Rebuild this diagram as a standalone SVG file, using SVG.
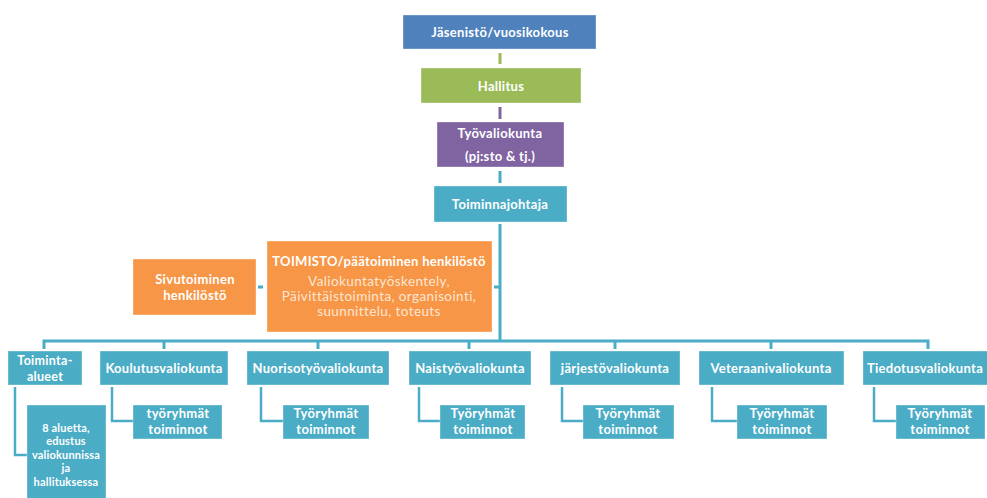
<svg xmlns="http://www.w3.org/2000/svg" width="987" height="498" viewBox="0 0 987 498">
<style>
text{font-family:Lato,"Open Sans","Liberation Sans",sans-serif;font-weight:700;font-size:13px;letter-spacing:0.3px;fill:#ffffff;text-anchor:middle;dominant-baseline:central}
.lt{font-weight:400;fill:#fde6d3;font-size:13.5px;letter-spacing:0.4px}
.sm{font-size:11px;letter-spacing:0.2px}
.ta{font-size:12.5px}
rect{stroke:#ffffff;stroke-opacity:0.35;stroke-width:1}
.b{fill:#4bacc6}
.o{fill:#f79646}
.c{fill:none;stroke:#4bacc6;stroke-width:3}
.s{fill:none;stroke:#4bacc6;stroke-width:2.5}
</style>
<g id="connectors">
<line x1="500" y1="53" x2="500" y2="64" stroke="#9bbb59" stroke-width="3"/>
<line x1="500" y1="107" x2="500" y2="119" stroke="#8064a2" stroke-width="3"/>
<line class="c" x1="500" y1="171" x2="500" y2="183"/>
<line class="c" x1="500" y1="224" x2="500" y2="342"/>
<line class="c" x1="494" y1="287" x2="500" y2="287"/>
<line class="c" x1="258" y1="287" x2="263" y2="287"/>
<polyline class="c" points="44,349 44,341 928,341 928,349"/>
<line class="c" x1="164" y1="341" x2="164" y2="349"/>
<line class="c" x1="318" y1="341" x2="318" y2="349"/>
<line class="c" x1="469" y1="341" x2="469" y2="349"/>
<line class="c" x1="615" y1="341" x2="615" y2="349"/>
<line class="c" x1="771" y1="341" x2="771" y2="349"/>
<polyline class="s" points="15,387 15,455 27,455"/>
<polyline class="s" points="112,387 112,421 133,421"/>
<polyline class="s" points="261,387 261,421 283,421"/>
<polyline class="s" points="419,387 419,421 440,421"/>
<polyline class="s" points="562,387 562,421 583,421"/>
<polyline class="s" points="712,387 712,421 737,421"/>
<polyline class="s" points="874,387 874,421 896,421"/>
</g>
<g id="jasenisto"><rect x="403" y="15" width="193" height="34" fill="#4f81bd"/><text x="500" y="32">Jäsenistö/vuosikokous</text></g>
<g id="hallitus"><rect x="421" y="68" width="160" height="35" fill="#9bbb59"/><text x="501" y="86">Hallitus</text></g>
<g id="tyovaliokunta"><rect x="437" y="122" width="127" height="45" fill="#8064a2"/><text x="500" y="133">Työvaliokunta</text><text x="500" y="156">(pj:sto &amp; tj.)</text></g>
<g id="toiminnanjohtaja"><rect class="b" x="434" y="186" width="133" height="36"/><text x="500" y="204">Toiminnajohtaja</text></g>
<g id="toimisto"><rect class="o" x="267" y="241" width="225" height="91"/><text x="379" y="261">TOIMISTO/päätoiminen henkilöstö</text><text class="lt" x="379" y="281">Valiokuntatyöskentely,</text><text class="lt" x="379" y="296">Päivittäistoiminta, organisointi,</text><text class="lt" x="379" y="311">suunnittelu, toteuts</text></g>
<g id="sivutoiminen"><rect class="o" x="133" y="259" width="123" height="56"/><text x="195" y="279">Sivutoiminen</text><text x="195" y="295">henkilöstö</text></g>
<g id="toiminta-alueet"><rect class="b" x="8" y="351" width="74" height="34"/><text class="ta" x="45" y="360">Toiminta-</text><text class="ta" x="45" y="376">alueet</text></g>
<g id="koulutus"><rect class="b" x="100" y="351" width="128" height="34"/><text x="164" y="368">Koulutusvaliokunta</text></g>
<g id="nuoriso"><rect class="b" x="247" y="351" width="142" height="34"/><text x="318" y="368">Nuorisotyövaliokunta</text></g>
<g id="naisty"><rect class="b" x="409" y="351" width="122" height="34"/><text x="470" y="368">Naistyövaliokunta</text></g>
<g id="jarjesto"><rect class="b" x="550" y="351" width="130" height="34"/><text x="615" y="368">järjestövaliokunta</text></g>
<g id="veteraani"><rect class="b" x="699" y="351" width="145" height="34"/><text x="771" y="368">Veteraanivaliokunta</text></g>
<g id="tiedotus"><rect class="b" x="863" y="351" width="126" height="34"/><text x="925" y="368">Tiedotusvaliokunta</text></g>
<g id="alueet-sub"><rect class="b" x="27" y="405" width="79" height="96"/><text class="sm" x="66" y="427">8 aluetta,</text><text class="sm" x="66" y="440.5">edustus</text><text class="sm" x="66" y="454">valiokunnissa</text><text class="sm" x="66" y="467.5">ja</text><text class="sm" x="66" y="481">hallituksessa</text></g>
<g id="koulutus-sub"><rect class="b" x="133" y="405" width="89" height="34"/><text x="178" y="413">työryhmät</text><text x="178" y="429">toiminnot</text></g>
<g id="nuoriso-sub"><rect class="b" x="283" y="405" width="86" height="34"/><text x="326" y="413">Työryhmät</text><text x="326" y="429">toiminnot</text></g>
<g id="naisty-sub"><rect class="b" x="440" y="405" width="85" height="34"/><text x="483" y="413">Työryhmät</text><text x="483" y="429">toiminnot</text></g>
<g id="jarjesto-sub"><rect class="b" x="583" y="405" width="91" height="34"/><text x="628" y="413">Työryhmät</text><text x="628" y="429">toiminnot</text></g>
<g id="veteraani-sub"><rect class="b" x="737" y="405" width="90" height="34"/><text x="782" y="413">Työryhmät</text><text x="782" y="429">toiminnot</text></g>
<g id="tiedotus-sub"><rect class="b" x="896" y="405" width="89" height="34"/><text x="940" y="413">Työryhmät</text><text x="940" y="429">toiminnot</text></g>
</svg>
